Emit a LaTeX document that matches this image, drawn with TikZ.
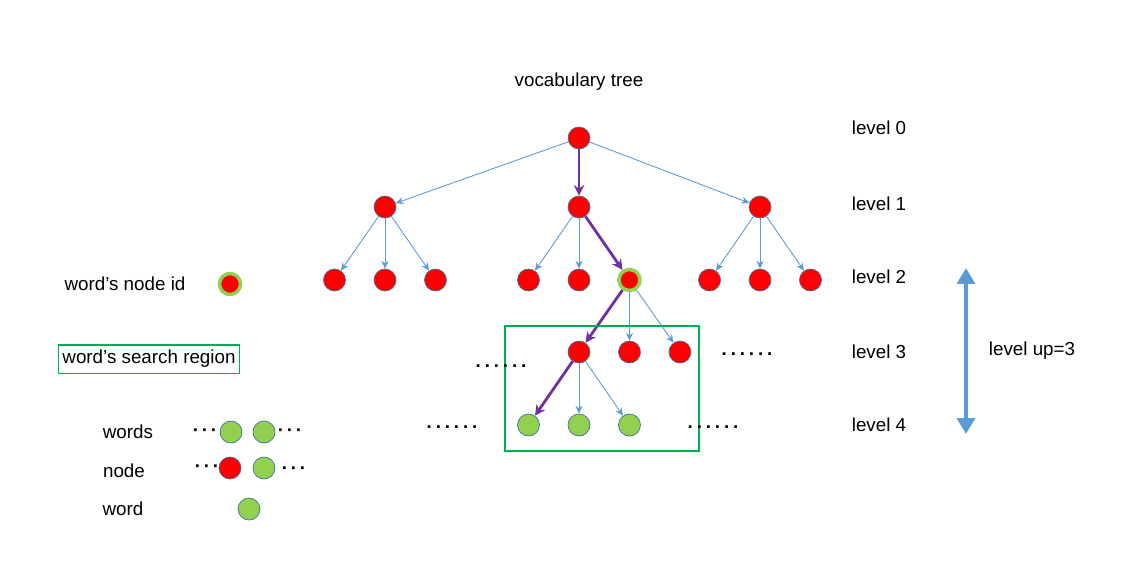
\documentclass[tikz,border=0pt]{standalone}
\usepackage{fontspec}
\setmainfont{Liberation Sans}
\usetikzlibrary{arrows.meta}
\usetikzlibrary{positioning}

\definecolor{rimblue}{HTML}{41719C}
\definecolor{linkblue}{HTML}{5B9BD5}
\definecolor{pathpurple}{HTML}{7030A0}
\definecolor{wordgreen}{HTML}{92D050}
\definecolor{boxgreen}{HTML}{00B050}

\newcommand{\sixdots}{.\kern2.2pt.\kern2.2pt.\kern2.2pt.\kern2.2pt.\kern2.2pt.}
\newcommand{\threedots}{·\kern1.6pt·\kern1.6pt·}

\begin{document}
\begin{tikzpicture}[x=0.02cm, y=-0.02cm, node distance=1.01cm,
    every node/.style={font=\fontsize{10.7}{12}\selectfont},
    tnode/.style={circle, draw=rimblue, fill=red, line width=0.4pt, minimum size=0.44cm, inner sep=0pt},
    wnode/.style={tnode, fill=wordgreen},
    idnode/.style={tnode, draw=wordgreen, line width=2pt, minimum size=0.42cm},
    link/.style={draw=linkblue, line width=0.5pt, -{Stealth[length=4.5pt,width=4pt]}},
    walk/.style={draw=pathpurple, line width=1.6pt, -{Stealth[length=6pt,width=6pt]}},
    dots/.style={font=\bfseries\fontsize{10.7}{12}\selectfont, anchor=base, inner sep=0pt}]

  \useasboundingbox (0,0) rectangle (1140,566);

  % tree
  \node[tnode] (r) at (579,138) {};
  \node[tnode] (a) at (385,207) {};
  \node[tnode] (b) at (579,207) {};
  \node[tnode] (c) at (760,207) {};

  \node[tnode] (a2) at (385,280) {};
  \node[tnode, left of=a2] (a1) {};
  \node[tnode, right of=a2] (a3) {};
  \node[tnode] (b2) at (579,280) {};
  \node[tnode, left of=b2] (b1) {};
  \node[idnode, right of=b2] (b3) {};
  \node[tnode] (c2) at (760,280) {};
  \node[tnode, left of=c2] (c1) {};
  \node[tnode, right of=c2] (c3) {};

  \node[tnode] (d1) at (579,352) {};
  \node[tnode, right of=d1] (d2) {};
  \node[tnode, right of=d2] (d3) {};

  \node[wnode] (e2) at (579,425) {};
  \node[wnode, left of=e2] (e1) {};
  \node[wnode, right of=e2] (e3) {};

  \draw[link] (r) -- (a);
  \draw[link] (r) -- (c);
  \draw[walk] (r) -- (b);
  \foreach \p in {a,c} {
    \draw[link] (\p) -- (\p1);
    \draw[link] (\p) -- (\p2);
    \draw[link] (\p) -- (\p3);
  }
  \draw[link] (b) -- (b1);
  \draw[link] (b) -- (b2);
  \draw[walk] (b) -- (b3);
  \draw[walk] (b3) -- (d1);
  \draw[link] (b3) -- (d2);
  \draw[link] (b3) -- (d3);
  \draw[walk] (d1) -- (e1);
  \draw[link] (d1) -- (e2);
  \draw[link] (d1) -- (e3);

  \node[draw=boxgreen, line width=0.6pt, minimum width=3.88cm, minimum height=2.5cm] (region) at (602,388.5) {};

  \node[dots] (dl3) at (501,367) {\sixdots};
  \node[dots] (dr3) at (747,355) {\sixdots};
  \node[dots] (dl4) at (452,428) {\sixdots};
  \node[dots] (dr4) at (713,428) {\sixdots};

  \node (title) at (579,82) {vocabulary tree};

  % levels
  \foreach \i/\y in {0/128,1/204,2/277,3/352,4/425}
    \node (lv\i) at (879,\y) {level \i};

  \coordinate (uptop) at (966,268);
  \coordinate (upbot) at (966,434);
  \draw[linkblue, line width=2.8pt, {Triangle[length=9pt,width=10pt]}-{Triangle[length=9pt,width=10pt]}] (uptop) -- (upbot);
  \node (lvup) at (1032,351) {level up=3};

  % legend
  \node (kid) at (125,284) {word’s node id};
  \node[idnode] (kidc) at (230,284) {};
  \node[draw=boxgreen, line width=0.6pt, inner xsep=2.5pt, inner ysep=3pt] (kreg) at (149,359) {word’s search region};

  \node (kwords) at (128,432) {words};
  \node[dots] (kwd1) at (205,436) {\threedots};
  \node[wnode] (kw1) at (231,432) {};
  \node[wnode] (kw2) at (264,432) {};
  \node[dots] (kwd2) at (290,436) {\threedots};

  \node (knode) at (124,471) {node};
  \node[dots] (knd1) at (207,472) {\threedots};
  \node[tnode] (kn1) at (230,468) {};
  \node[wnode] (kn2) at (264,468) {};
  \node[dots] (knd2) at (294,474) {\threedots};

  \node (kword) at (123,509) {word};
  \node[wnode] (kwc) at (249,509) {};
\end{tikzpicture}
\end{document}
